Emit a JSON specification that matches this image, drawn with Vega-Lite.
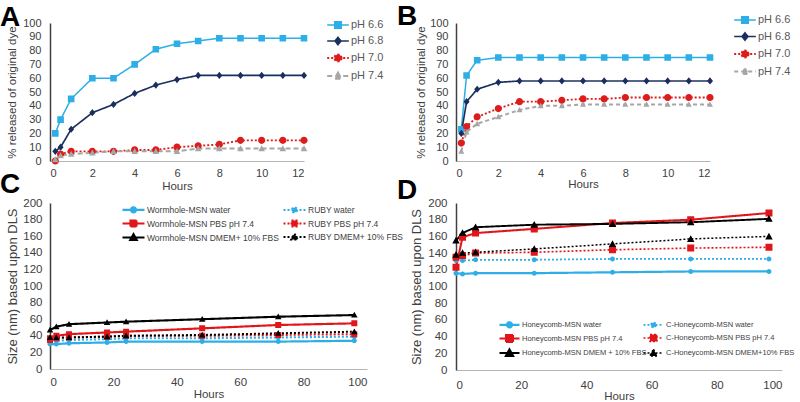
{
  "$schema": "https://vega.github.io/schema/vega-lite/v6.json",
  "padding": {"left": 0, "top": 3, "right": 0, "bottom": 0},
  "bounds": "flush",
  "columns": 2,
  "spacing": {"row": 42, "column": 89},
  "datasets": {
    "A": [
      {"t":0.25,"v":20,"s":"pH 6.6"},{"t":0.5,"v":30,"s":"pH 6.6"},{"t":1,"v":45,"s":"pH 6.6"},{"t":2,"v":60,"s":"pH 6.6"},{"t":3,"v":60,"s":"pH 6.6"},{"t":4,"v":70,"s":"pH 6.6"},{"t":5,"v":81,"s":"pH 6.6"},{"t":6,"v":85,"s":"pH 6.6"},{"t":7,"v":87,"s":"pH 6.6"},{"t":8,"v":89,"s":"pH 6.6"},{"t":9,"v":89,"s":"pH 6.6"},{"t":10,"v":89,"s":"pH 6.6"},{"t":11,"v":89,"s":"pH 6.6"},{"t":12,"v":89,"s":"pH 6.6"},
      {"t":0.25,"v":7,"s":"pH 6.8"},{"t":0.5,"v":10,"s":"pH 6.8"},{"t":1,"v":23,"s":"pH 6.8"},{"t":2,"v":35,"s":"pH 6.8"},{"t":3,"v":41,"s":"pH 6.8"},{"t":4,"v":49,"s":"pH 6.8"},{"t":5,"v":55,"s":"pH 6.8"},{"t":6,"v":59,"s":"pH 6.8"},{"t":7,"v":62,"s":"pH 6.8"},{"t":8,"v":62,"s":"pH 6.8"},{"t":9,"v":62,"s":"pH 6.8"},{"t":10,"v":62,"s":"pH 6.8"},{"t":11,"v":62,"s":"pH 6.8"},{"t":12,"v":62,"s":"pH 6.8"},
      {"t":0.25,"v":0,"s":"pH 7.0"},{"t":0.5,"v":5,"s":"pH 7.0"},{"t":1,"v":7,"s":"pH 7.0"},{"t":2,"v":7,"s":"pH 7.0"},{"t":3,"v":7,"s":"pH 7.0"},{"t":4,"v":8,"s":"pH 7.0"},{"t":5,"v":8,"s":"pH 7.0"},{"t":6,"v":10,"s":"pH 7.0"},{"t":7,"v":11,"s":"pH 7.0"},{"t":8,"v":12,"s":"pH 7.0"},{"t":9,"v":15,"s":"pH 7.0"},{"t":10,"v":15,"s":"pH 7.0"},{"t":11,"v":15,"s":"pH 7.0"},{"t":12,"v":15,"s":"pH 7.0"},
      {"t":0.25,"v":1,"s":"pH 7.4"},{"t":0.5,"v":4,"s":"pH 7.4"},{"t":1,"v":5,"s":"pH 7.4"},{"t":2,"v":6,"s":"pH 7.4"},{"t":3,"v":7,"s":"pH 7.4"},{"t":4,"v":7,"s":"pH 7.4"},{"t":5,"v":7,"s":"pH 7.4"},{"t":6,"v":7,"s":"pH 7.4"},{"t":7,"v":9,"s":"pH 7.4"},{"t":8,"v":9,"s":"pH 7.4"},{"t":9,"v":9,"s":"pH 7.4"},{"t":10,"v":9,"s":"pH 7.4"},{"t":11,"v":9,"s":"pH 7.4"},{"t":12,"v":9,"s":"pH 7.4"}
    ],
    "B": [
      {"t":0.25,"v":23,"s":"pH 6.6"},{"t":0.5,"v":62,"s":"pH 6.6"},{"t":1,"v":73,"s":"pH 6.6"},{"t":2,"v":75,"s":"pH 6.6"},{"t":3,"v":75,"s":"pH 6.6"},{"t":4,"v":75,"s":"pH 6.6"},{"t":5,"v":75,"s":"pH 6.6"},{"t":6,"v":75,"s":"pH 6.6"},{"t":7,"v":75,"s":"pH 6.6"},{"t":8,"v":75,"s":"pH 6.6"},{"t":9,"v":75,"s":"pH 6.6"},{"t":10,"v":75,"s":"pH 6.6"},{"t":11,"v":75,"s":"pH 6.6"},{"t":12,"v":75,"s":"pH 6.6"},
      {"t":0.25,"v":20,"s":"pH 6.8"},{"t":0.5,"v":43,"s":"pH 6.8"},{"t":1,"v":52,"s":"pH 6.8"},{"t":2,"v":57,"s":"pH 6.8"},{"t":3,"v":58,"s":"pH 6.8"},{"t":4,"v":58,"s":"pH 6.8"},{"t":5,"v":58,"s":"pH 6.8"},{"t":6,"v":58,"s":"pH 6.8"},{"t":7,"v":58,"s":"pH 6.8"},{"t":8,"v":58,"s":"pH 6.8"},{"t":9,"v":58,"s":"pH 6.8"},{"t":10,"v":58,"s":"pH 6.8"},{"t":11,"v":58,"s":"pH 6.8"},{"t":12,"v":58,"s":"pH 6.8"},
      {"t":0.25,"v":13,"s":"pH 7.0"},{"t":0.5,"v":25,"s":"pH 7.0"},{"t":1,"v":32,"s":"pH 7.0"},{"t":2,"v":38,"s":"pH 7.0"},{"t":3,"v":43,"s":"pH 7.0"},{"t":4,"v":43,"s":"pH 7.0"},{"t":5,"v":44,"s":"pH 7.0"},{"t":6,"v":45,"s":"pH 7.0"},{"t":7,"v":45,"s":"pH 7.0"},{"t":8,"v":46,"s":"pH 7.0"},{"t":9,"v":46,"s":"pH 7.0"},{"t":10,"v":46,"s":"pH 7.0"},{"t":11,"v":46,"s":"pH 7.0"},{"t":12,"v":46,"s":"pH 7.0"},
      {"t":0.25,"v":7,"s":"pH 7.4"},{"t":0.5,"v":21,"s":"pH 7.4"},{"t":1,"v":27,"s":"pH 7.4"},{"t":2,"v":32,"s":"pH 7.4"},{"t":3,"v":37,"s":"pH 7.4"},{"t":4,"v":40,"s":"pH 7.4"},{"t":5,"v":40,"s":"pH 7.4"},{"t":6,"v":41,"s":"pH 7.4"},{"t":7,"v":41,"s":"pH 7.4"},{"t":8,"v":41,"s":"pH 7.4"},{"t":9,"v":41,"s":"pH 7.4"},{"t":10,"v":41,"s":"pH 7.4"},{"t":11,"v":41,"s":"pH 7.4"},{"t":12,"v":41,"s":"pH 7.4"}
    ],
    "C": [
      {"t":0,"v":30,"s":"Wormhole-MSN water"},{"t":2,"v":30,"s":"Wormhole-MSN water"},{"t":6,"v":31,"s":"Wormhole-MSN water"},{"t":18,"v":32,"s":"Wormhole-MSN water"},{"t":24,"v":33,"s":"Wormhole-MSN water"},{"t":48,"v":33,"s":"Wormhole-MSN water"},{"t":72,"v":33,"s":"Wormhole-MSN water"},{"t":96,"v":34,"s":"Wormhole-MSN water"},
      {"t":0,"v":37,"s":"Wormhole-MSN PBS pH 7.4"},{"t":2,"v":40,"s":"Wormhole-MSN PBS pH 7.4"},{"t":6,"v":42,"s":"Wormhole-MSN PBS pH 7.4"},{"t":18,"v":44,"s":"Wormhole-MSN PBS pH 7.4"},{"t":24,"v":45,"s":"Wormhole-MSN PBS pH 7.4"},{"t":48,"v":49,"s":"Wormhole-MSN PBS pH 7.4"},{"t":72,"v":53,"s":"Wormhole-MSN PBS pH 7.4"},{"t":96,"v":55,"s":"Wormhole-MSN PBS pH 7.4"},
      {"t":0,"v":47,"s":"Wormhole-MSN DMEM+ 10% FBS"},{"t":2,"v":51,"s":"Wormhole-MSN DMEM+ 10% FBS"},{"t":6,"v":54,"s":"Wormhole-MSN DMEM+ 10% FBS"},{"t":18,"v":56,"s":"Wormhole-MSN DMEM+ 10% FBS"},{"t":24,"v":57,"s":"Wormhole-MSN DMEM+ 10% FBS"},{"t":48,"v":60,"s":"Wormhole-MSN DMEM+ 10% FBS"},{"t":72,"v":63,"s":"Wormhole-MSN DMEM+ 10% FBS"},{"t":96,"v":65,"s":"Wormhole-MSN DMEM+ 10% FBS"},
      {"t":0,"v":33,"s":"RUBY water"},{"t":2,"v":34,"s":"RUBY water"},{"t":6,"v":35,"s":"RUBY water"},{"t":18,"v":36,"s":"RUBY water"},{"t":24,"v":37,"s":"RUBY water"},{"t":48,"v":37,"s":"RUBY water"},{"t":72,"v":38,"s":"RUBY water"},{"t":96,"v":39,"s":"RUBY water"},
      {"t":0,"v":35,"s":"RUBY PBS pH 7.4"},{"t":2,"v":37,"s":"RUBY PBS pH 7.4"},{"t":6,"v":38,"s":"RUBY PBS pH 7.4"},{"t":18,"v":39,"s":"RUBY PBS pH 7.4"},{"t":24,"v":40,"s":"RUBY PBS pH 7.4"},{"t":48,"v":40,"s":"RUBY PBS pH 7.4"},{"t":72,"v":41,"s":"RUBY PBS pH 7.4"},{"t":96,"v":42,"s":"RUBY PBS pH 7.4"},
      {"t":0,"v":38,"s":"RUBY DMEM+ 10% FBS"},{"t":2,"v":38,"s":"RUBY DMEM+ 10% FBS"},{"t":6,"v":38,"s":"RUBY DMEM+ 10% FBS"},{"t":18,"v":39,"s":"RUBY DMEM+ 10% FBS"},{"t":24,"v":40,"s":"RUBY DMEM+ 10% FBS"},{"t":48,"v":41,"s":"RUBY DMEM+ 10% FBS"},{"t":72,"v":43,"s":"RUBY DMEM+ 10% FBS"},{"t":96,"v":45,"s":"RUBY DMEM+ 10% FBS"}
    ],
    "D": [
      {"t":0,"v":116,"s":"Honeycomb-MSN water"},{"t":2,"v":115,"s":"Honeycomb-MSN water"},{"t":6,"v":116,"s":"Honeycomb-MSN water"},{"t":24,"v":116,"s":"Honeycomb-MSN water"},{"t":48,"v":117,"s":"Honeycomb-MSN water"},{"t":72,"v":118,"s":"Honeycomb-MSN water"},{"t":96,"v":118,"s":"Honeycomb-MSN water"},
      {"t":0,"v":123,"s":"Honeycomb-MSN PBS pH 7.4"},{"t":2,"v":159,"s":"Honeycomb-MSN PBS pH 7.4"},{"t":6,"v":164,"s":"Honeycomb-MSN PBS pH 7.4"},{"t":24,"v":169,"s":"Honeycomb-MSN PBS pH 7.4"},{"t":48,"v":176,"s":"Honeycomb-MSN PBS pH 7.4"},{"t":72,"v":180,"s":"Honeycomb-MSN PBS pH 7.4"},{"t":96,"v":188,"s":"Honeycomb-MSN PBS pH 7.4"},
      {"t":0,"v":155,"s":"Honeycomb-MSN DMEM + 10% FBS"},{"t":2,"v":164,"s":"Honeycomb-MSN DMEM + 10% FBS"},{"t":6,"v":171,"s":"Honeycomb-MSN DMEM + 10% FBS"},{"t":24,"v":174,"s":"Honeycomb-MSN DMEM + 10% FBS"},{"t":48,"v":175,"s":"Honeycomb-MSN DMEM + 10% FBS"},{"t":72,"v":177,"s":"Honeycomb-MSN DMEM + 10% FBS"},{"t":96,"v":181,"s":"Honeycomb-MSN DMEM + 10% FBS"},
      {"t":0,"v":131,"s":"C-Honeycomb-MSN water"},{"t":2,"v":131,"s":"C-Honeycomb-MSN water"},{"t":6,"v":132,"s":"C-Honeycomb-MSN water"},{"t":24,"v":132,"s":"C-Honeycomb-MSN water"},{"t":48,"v":133,"s":"C-Honeycomb-MSN water"},{"t":72,"v":133,"s":"C-Honeycomb-MSN water"},{"t":96,"v":133,"s":"C-Honeycomb-MSN water"},
      {"t":0,"v":135,"s":"C-Honeycomb-MSN PBS pH 7.4"},{"t":2,"v":137,"s":"C-Honeycomb-MSN PBS pH 7.4"},{"t":6,"v":140,"s":"C-Honeycomb-MSN PBS pH 7.4"},{"t":24,"v":141,"s":"C-Honeycomb-MSN PBS pH 7.4"},{"t":48,"v":144,"s":"C-Honeycomb-MSN PBS pH 7.4"},{"t":72,"v":146,"s":"C-Honeycomb-MSN PBS pH 7.4"},{"t":96,"v":147,"s":"C-Honeycomb-MSN PBS pH 7.4"},
      {"t":0,"v":138,"s":"C-Honeycomb-MSN DMEM+10% FBS"},{"t":2,"v":140,"s":"C-Honeycomb-MSN DMEM+10% FBS"},{"t":6,"v":141,"s":"C-Honeycomb-MSN DMEM+10% FBS"},{"t":24,"v":145,"s":"C-Honeycomb-MSN DMEM+10% FBS"},{"t":48,"v":151,"s":"C-Honeycomb-MSN DMEM+10% FBS"},{"t":72,"v":157,"s":"C-Honeycomb-MSN DMEM+10% FBS"},{"t":96,"v":160,"s":"C-Honeycomb-MSN DMEM+10% FBS"}
    ]
  },
  "concat": [
    {
      "width": 254, "height": 138,
      "title": {"text": "A", "anchor": "start", "frame": "group", "fontSize": 28, "fontWeight": "bold", "color": "#000000", "dx": -50, "offset": -37, "baseline": "alphabetic"},
      "data": {"name": "A"},
      "encoding": {
        "x": {"field": "t", "type": "quantitative", "scale": {"domain": [0, 12], "nice": false}, "axis": {"title": "Hours", "values": [0,2,4,6,8,10,12], "labelFontSize": 11, "labelPadding": 6, "titleFontSize": 11.5, "titlePadding": 2}},
        "y": {"field": "v", "type": "quantitative", "scale": {"domain": [0, 100], "nice": false}, "axis": {"title": "% released of original dye", "values": [0,10,20,30,40,50,60,70,80,90,100], "labelFontSize": 11, "labelPadding": 9, "titleFontSize": 11.5, "titlePadding": 5}},
        "color": {"field": "s", "type": "nominal", "scale": {"domain": ["pH 6.6","pH 6.8","pH 7.0","pH 7.4"], "range": ["#2daee6","#1b2f5e","#dd1c1c","#a6a6a6"]},
          "legend": {"orient": "none", "legendX": 281, "legendY": -5, "title": null, "direction": "vertical", "symbolSize": 144, "symbolStrokeWidth": 1.6, "labelOffset": 6, "rowPadding": 2, "labelFontSize": 11, "labelColor": "#595959", "padding": 0}},
        "shape": {"field": "s", "type": "nominal", "scale": {"domain": ["pH 6.6","pH 6.8","pH 7.0","pH 7.4"], "range": ["M-1.8,0H1.8M-0.55,-0.55H0.55V0.55H-0.55Z","M-1.8,0H1.8M0,-0.6L0.5,0L0,0.6L-0.5,0Z","M-1.8,0H1.8M0.6,0A0.6,0.6 0 1,1 -0.6,0A0.6,0.6 0 1,1 0.6,0Z","M-1.8,0H1.8M0,-0.55L0.55,0.45H-0.55Z"]}},
        "strokeDash": {"field": "s", "type": "nominal", "scale": {"domain": ["pH 6.6","pH 6.8","pH 7.0","pH 7.4"], "range": [[1,0],[1,0],[2,2],[5,3]]}}
      },
      "layer": [
        {"mark": {"type": "line"}, "encoding": {
          "strokeWidth": {"field": "s", "type": "ordinal", "scale": {"domain": ["pH 6.6","pH 6.8","pH 7.0","pH 7.4"], "range": [1.5,2,2,2]}, "legend": null}}},
        {"mark": {"type": "point", "filled": true, "opacity": 1, "size": 144, "strokeWidth": 0}}
      ]
    },
    {
      "width": 254, "height": 138,
      "title": {"text": "B", "anchor": "start", "frame": "group", "fontSize": 28, "fontWeight": "bold", "color": "#000000", "dx": -59, "offset": -40, "baseline": "alphabetic"},
      "data": {"name": "B"},
      "encoding": {
        "x": {"field": "t", "type": "quantitative", "scale": {"domain": [0, 12], "nice": false}, "axis": {"title": "Hours", "values": [0,2,4,6,8,10,12], "labelFontSize": 11, "labelPadding": 6, "titleFontSize": 11.5, "titlePadding": 0}},
        "y": {"field": "v", "type": "quantitative", "scale": {"domain": [0, 100], "nice": false}, "axis": {"title": "% released of original dye", "values": [0,10,20,30,40,50,60,70,80,90,100], "labelFontSize": 11, "labelPadding": 8, "titleFontSize": 11.5, "titlePadding": 3}},
        "color": {"field": "s", "type": "nominal", "scale": {"domain": ["pH 6.6","pH 6.8","pH 7.0","pH 7.4"], "range": ["#2daee6","#1b2f5e","#dd1c1c","#a6a6a6"]},
          "legend": {"orient": "none", "legendX": 282, "legendY": -10, "title": null, "direction": "vertical", "symbolSize": 144, "symbolStrokeWidth": 1.6, "labelOffset": 6, "rowPadding": 2.5, "labelFontSize": 11, "labelColor": "#595959", "padding": 0}},
        "shape": {"field": "s", "type": "nominal", "scale": {"domain": ["pH 6.6","pH 6.8","pH 7.0","pH 7.4"], "range": ["M-1.8,0H1.8M-0.55,-0.55H0.55V0.55H-0.55Z","M-1.8,0H1.8M0,-0.6L0.5,0L0,0.6L-0.5,0Z","M-1.8,0H1.8M0.6,0A0.6,0.6 0 1,1 -0.6,0A0.6,0.6 0 1,1 0.6,0Z","M-1.8,0H1.8M0,-0.5L0.5,0.4H-0.5Z"]}},
        "strokeDash": {"field": "s", "type": "nominal", "scale": {"domain": ["pH 6.6","pH 6.8","pH 7.0","pH 7.4"], "range": [[1,0],[1,0],[2,2],[4,3]]}}
      },
      "layer": [
        {"mark": {"type": "line"}, "encoding": {
          "strokeWidth": {"field": "s", "type": "ordinal", "scale": {"domain": ["pH 6.6","pH 6.8","pH 7.0","pH 7.4"], "range": [1.5,2,2,1.2]}, "legend": null}}},
        {"mark": {"type": "point", "filled": true, "opacity": 1, "size": 144, "strokeWidth": 0}}
      ]
    },
    {
      "width": 317, "height": 166,
      "title": {"text": "C", "anchor": "start", "frame": "group", "fontSize": 28, "fontWeight": "bold", "color": "#000000", "dx": -50, "offset": -24, "baseline": "alphabetic"},
      "data": {"name": "C"},
      "encoding": {
        "x": {"field": "t", "type": "quantitative", "scale": {"domain": [0, 100], "nice": false}, "axis": {"title": "Hours", "values": [0,20,40,60,80,100], "labelFontSize": 11.5, "labelPadding": 7, "titleFontSize": 11.5, "titlePadding": 1}},
        "y": {"field": "v", "type": "quantitative", "scale": {"domain": [0, 200], "nice": false}, "axis": {"title": "Size (nm) based upon DLS", "values": [0,20,40,60,80,100,120,140,160,180,200], "labelFontSize": 11.5, "labelPadding": 8, "titleFontSize": 13, "titlePadding": 3}},
        "color": {"field": "s", "type": "nominal", "scale": {"domain": ["Wormhole-MSN water","Wormhole-MSN PBS pH 7.4","Wormhole-MSN DMEM+ 10% FBS","RUBY water","RUBY PBS pH 7.4","RUBY DMEM+ 10% FBS"], "range": ["#2daee6","#e0161b","#000000","#2daee6","#e0161b","#000000"]},
          "legend": {"orient": "none", "legendX": 77, "legendY": 0, "title": null, "columns": 2, "columnPadding": 0, "symbolSize": 100, "symbolStrokeWidth": 2, "labelOffset": 7, "rowPadding": -3, "labelFontSize": 8.5, "labelColor": "#404040", "padding": 0}},
        "shape": {"field": "s", "type": "nominal", "scale": {"domain": ["Wormhole-MSN water","Wormhole-MSN PBS pH 7.4","Wormhole-MSN DMEM+ 10% FBS","RUBY water","RUBY PBS pH 7.4","RUBY DMEM+ 10% FBS"], "range": ["M-2.2,0H2.2M0.5,0A0.5,0.5 0 1,1 -0.5,0A0.5,0.5 0 1,1 0.5,0Z","M-2.2,0H2.2M-0.6,-0.6H0.6V0.6H-0.6Z","M-2.2,0H2.2M0,-0.65L0.65,0.5H-0.65Z","M-2.2,0H2.2M0.5,0A0.5,0.5 0 1,1 -0.5,0A0.5,0.5 0 1,1 0.5,0Z","M-2.2,0H2.2M-0.6,-0.6H0.6V0.6H-0.6Z","M-2.2,0H2.2M0,-0.65L0.65,0.5H-0.65Z"]}},
        "strokeDash": {"field": "s", "type": "nominal", "scale": {"domain": ["Wormhole-MSN water","Wormhole-MSN PBS pH 7.4","Wormhole-MSN DMEM+ 10% FBS","RUBY water","RUBY PBS pH 7.4","RUBY DMEM+ 10% FBS"], "range": [[1,0],[1,0],[1,0],[2,2],[2,2],[2,2]]}}
      },
      "layer": [
        {"mark": {"type": "line"}, "encoding": {
          "strokeWidth": {"field": "s", "type": "ordinal", "scale": {"domain": ["Wormhole-MSN water","Wormhole-MSN PBS pH 7.4","Wormhole-MSN DMEM+ 10% FBS","RUBY water","RUBY PBS pH 7.4","RUBY DMEM+ 10% FBS"], "range": [2.2,2,1.2,2,2,2.5]}, "legend": null}}},
        {"mark": {"type": "point", "filled": true, "opacity": 1, "size": 100, "strokeWidth": 0}}
      ]
    },
    {
      "width": 326, "height": 167,
      "title": {"text": "D", "anchor": "start", "frame": "group", "fontSize": 28, "fontWeight": "bold", "color": "#000000", "dx": -59, "offset": -30, "baseline": "alphabetic"},
      "data": {"name": "D"},
      "encoding": {
        "x": {"field": "t", "type": "quantitative", "scale": {"domain": [0, 100], "nice": false}, "axis": {"title": "Hours", "values": [0,20,40,60,80,100], "labelFontSize": 11.5, "labelPadding": 9, "titleFontSize": 11.5, "titlePadding": 0}},
        "y": {"field": "v", "type": "quantitative", "scale": {"domain": [0, 200], "nice": false}, "axis": {"title": "Size (nm) based upon DLS", "values": [0,20,40,60,80,100,120,140,160,180,200], "labelFontSize": 11.5, "labelPadding": 9, "titleFontSize": 13, "titlePadding": 4}},
        "color": {"field": "s", "type": "nominal", "scale": {"domain": ["Honeycomb-MSN water","Honeycomb-MSN PBS pH 7.4","Honeycomb-MSN DMEM + 10% FBS","C-Honeycomb-MSN water","C-Honeycomb-MSN PBS pH 7.4","C-Honeycomb-MSN DMEM+10% FBS"], "range": ["#2daee6","#e0161b","#000000","#2daee6","#e0161b","#000000"]},
          "legend": {"orient": "none", "legendX": 47, "legendY": 115, "title": null, "columns": 2, "columnPadding": -10, "symbolSize": 100, "symbolStrokeWidth": 2, "labelOffset": 6, "rowPadding": -3.5, "labelFontSize": 7.5, "labelColor": "#404040", "padding": 0}},
        "shape": {"field": "s", "type": "nominal", "scale": {"domain": ["Honeycomb-MSN water","Honeycomb-MSN PBS pH 7.4","Honeycomb-MSN DMEM + 10% FBS","C-Honeycomb-MSN water","C-Honeycomb-MSN PBS pH 7.4","C-Honeycomb-MSN DMEM+10% FBS"], "range": ["M-2,0H2M0.5,0A0.5,0.5 0 1,1 -0.5,0A0.5,0.5 0 1,1 0.5,0Z","M-2,0H2M-0.7,-0.7H0.7V0.7H-0.7Z","M-2,0H2M0,-0.75L0.75,0.6H-0.75Z","M-2,0H2M0.5,0A0.5,0.5 0 1,1 -0.5,0A0.5,0.5 0 1,1 0.5,0Z","M-2,0H2M-0.7,-0.7H0.7V0.7H-0.7Z","M-2,0H2M0,-0.75L0.75,0.6H-0.75Z"]}},
        "strokeDash": {"field": "s", "type": "nominal", "scale": {"domain": ["Honeycomb-MSN water","Honeycomb-MSN PBS pH 7.4","Honeycomb-MSN DMEM + 10% FBS","C-Honeycomb-MSN water","C-Honeycomb-MSN PBS pH 7.4","C-Honeycomb-MSN DMEM+10% FBS"], "range": [[1,0],[1,0],[1,0],[2,2],[2,2],[2,2]]}}
      },
      "layer": [
        {"mark": {"type": "line"}, "encoding": {
          "strokeWidth": {"field": "s", "type": "ordinal", "scale": {"domain": ["Honeycomb-MSN water","Honeycomb-MSN PBS pH 7.4","Honeycomb-MSN DMEM + 10% FBS","C-Honeycomb-MSN water","C-Honeycomb-MSN PBS pH 7.4","C-Honeycomb-MSN DMEM+10% FBS"], "range": [2.2,1.5,2.5,2,2,2.5]}, "legend": null}}},
        {"mark": {"type": "point", "filled": true, "opacity": 1, "size": 100, "strokeWidth": 0}}
      ]
    }
  ],
  "resolve": {
    "scale": {"color": "independent", "shape": "independent", "strokeDash": "independent", "strokeWidth": "independent"},
    "legend": {"color": "independent", "shape": "independent", "strokeDash": "independent"}
  },
  "config": {
    "font": "Liberation Sans",
    "view": {"stroke": null},
    "axis": {"grid": false, "ticks": false, "labelColor": "#404040", "titleColor": "#404040", "titleFontWeight": "normal", "domainColor": "#404040", "domainWidth": 1.5},
    "axisX": {"domainColor": "#b5b5b5", "domainWidth": 1},
    "legend": {"labelColor": "#595959"}
  }
}
